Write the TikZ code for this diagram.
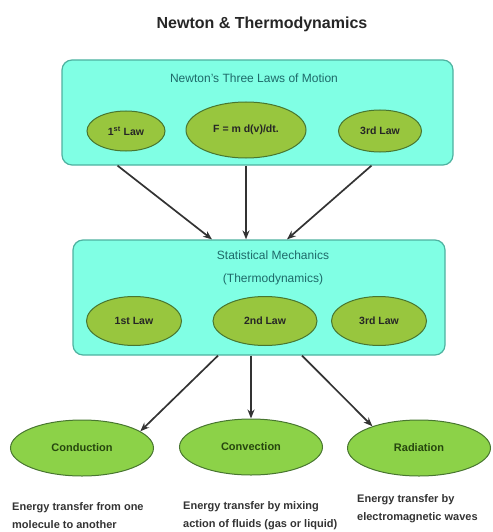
\documentclass[tikz,border=0pt]{standalone}
\usepackage{fontspec}
\setmainfont{Liberation Sans}
\usepackage{tikz}
\usetikzlibrary{shapes.geometric,arrows.meta}

\definecolor{boxfill}{RGB}{128,255,228}
\definecolor{boxline}{RGB}{78,178,160}
\definecolor{boxtext}{RGB}{30,105,105}
\definecolor{lawfill}{RGB}{152,198,62}
\definecolor{heatfill}{RGB}{140,210,72}
\definecolor{ovalline}{RGB}{72,118,48}
\definecolor{ovaltext}{RGB}{38,70,14}

\begin{document}
\begin{tikzpicture}[x=1pt,y=-1pt,
  panel/.style={draw=boxline, fill=boxfill, line width=1.2pt, rounded corners=10pt, inner sep=0pt},
  law/.style={ellipse, draw=ovalline, fill=lawfill, line width=1pt, inner sep=0pt,
    font=\bfseries\fontsize{10.5}{12}\selectfont, text=black!85},
  heat/.style={ellipse, draw=ovalline, fill=heatfill, line width=1pt, inner sep=0pt,
    minimum width=143pt, minimum height=56pt,
    font=\bfseries\fontsize{11}{13}\selectfont, text=ovaltext},
  note/.style={align=left, anchor=west, inner sep=0pt,
    font=\bfseries\fontsize{11}{18}\selectfont, text=black!80},
  arr/.style={-{Stealth[length=9pt,width=7pt]}, line width=1.7pt, draw=black!80}]

\useasboundingbox (0,0) rectangle (492,532);

\node[font=\bfseries\fontsize{16}{18}\selectfont, text=black!85] (title) at (262,24) {Newton \& Thermodynamics};

% Newton box
\node[panel, minimum width=391pt, minimum height=105pt] (newton) at (257.5,112.5) {};
\node[text=boxtext, font=\fontsize{12}{14}\selectfont] (ntitle) at (254,78) {Newton's Three Laws of Motion};
\node[law, minimum width=78pt, minimum height=40pt] (n1) at (126,131) {1\textsuperscript{st} Law};
\node[law, minimum width=120pt, minimum height=56pt] (nf) at (246,130) {F = m d(v)/dt.};
\node[law, minimum width=83pt, minimum height=42pt] (n3) at (380,131) {3rd Law};

% statistical mechanics box
\node[panel, minimum width=372pt, minimum height=115pt] (stat) at (259,297.5) {};
\node[text=boxtext, align=center, font=\fontsize{12}{23}\selectfont] (stitle) at (273,268) {Statistical Mechanics\\(Thermodynamics)};
\node[law, minimum width=95pt, minimum height=49pt] (s1) at (134,321) {1st Law};
\node[law, minimum width=104pt, minimum height=49pt] (s2) at (265,321) {2nd Law};
\node[law, minimum width=95pt, minimum height=49pt] (s3) at (379,321) {3rd Law};

% heat transfer
\node[heat] (cond) at (82,448) {Conduction};
\node[heat] (conv) at (251,447) {Convection};
\node[heat] (rad) at (419,448) {Radiation};

\node[note] (condtxt) at (12,516) {Energy transfer from one\\molecule to another};
\node[note] (convtxt) at (183,516) {Energy transfer by mixing\\action of fluids (gas or liquid)};
\node[note] (radtxt) at (357,509) {Energy transfer by\\electromagnetic waves};

\draw[arr] ([xshift=-140pt]newton.south) -- ([xshift=-47pt]stat.north);
\draw[arr] (newton.south -| nf) -- (stat.north -| nf);
\draw[arr] ([xshift=114pt]newton.south) -- ([xshift=28pt]stat.north);

\draw[arr] ([xshift=-41pt]stat.south) -- (cond.16);
\draw[arr] (stat.south -| conv) -- (conv.north);
\draw[arr] ([xshift=43pt]stat.south) -- (rad.155);
\end{tikzpicture}
\end{document}
